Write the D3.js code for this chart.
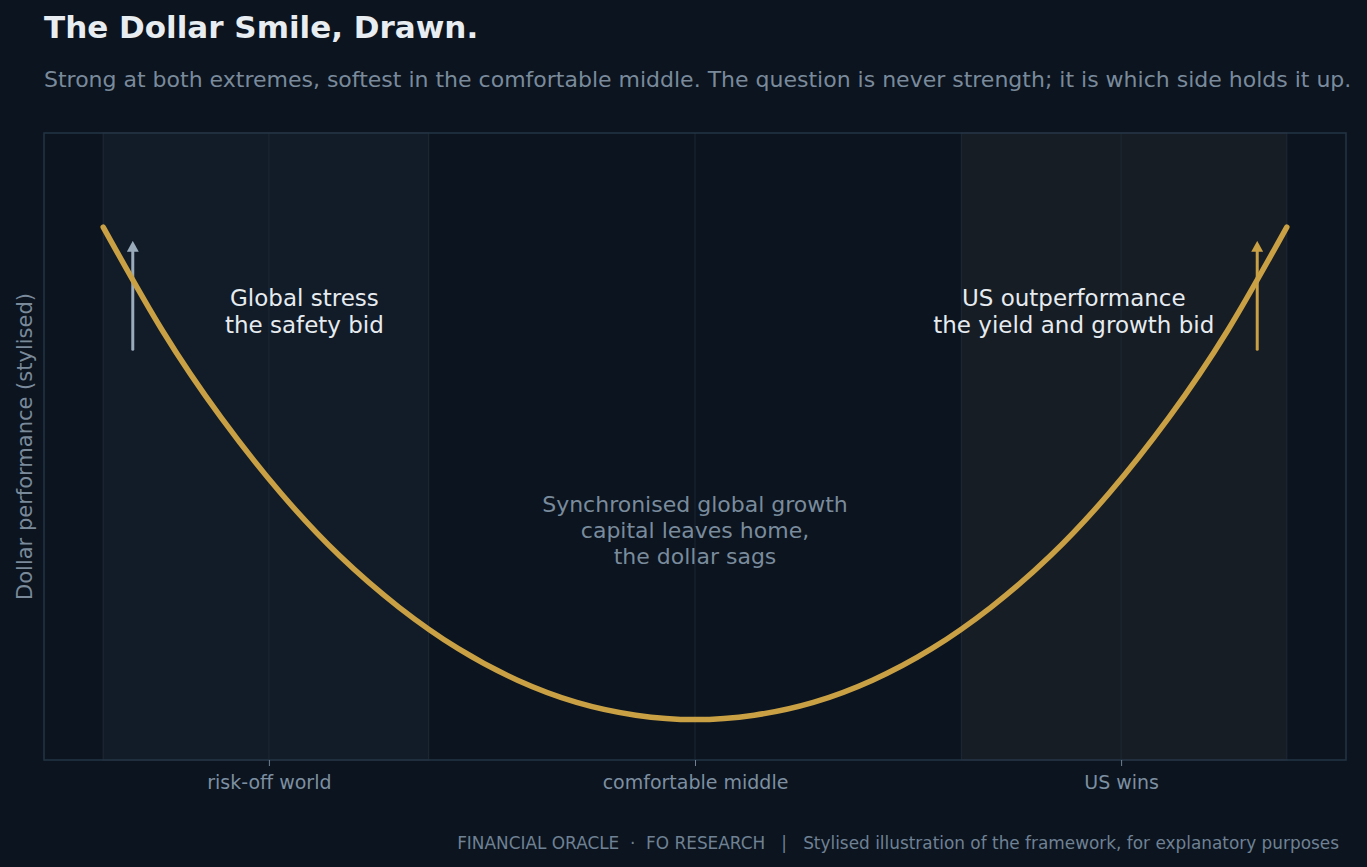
<!DOCTYPE html>
<html>
<head>
<meta charset="utf-8">
<script src="https://cdn.jsdelivr.net/npm/d3@7"></script>
<style>
  html, body { margin: 0; padding: 0; background: #0b141f; }
  svg { display: block; }
  text { font-family: "DejaVu Sans", sans-serif; }
</style>
</head>
<body>
<div id="chart"></div>
<script>
// Datos (unidades estilizadas)
const curveX = [-1.0, -0.9, -0.8, -0.7, -0.6, -0.5, -0.4, -0.3, -0.2, -0.1, 0.0,
                0.1, 0.2, 0.3, 0.4, 0.5, 0.6, 0.7, 0.8, 0.9, 1.0];
const curveY = [1.0, 0.79, 0.612, 0.46, 0.332, 0.228, 0.144, 0.08, 0.035, 0.009, 0.0,
                0.009, 0.035, 0.08, 0.144, 0.228, 0.332, 0.46, 0.612, 0.79, 1.0];

const tickValues = [-0.72, 0, 0.72];
const tickLabels = ["risk-off world", "comfortable middle", "US wins"];

const bandsStart = [-1.0, 0.45];
const bandsEnd = [-0.45, 1.0];

const arrowX = [-0.95, 0.95];
const arrowFrom = [0.752, 0.752];
const arrowTo = [0.972, 0.972];

const noteX = [-0.66, 0.64, 0.0];
const noteY = [0.827, 0.827, 0.383];
const noteLines = [
    ["Global stress", "the safety bid"],
    ["US outperformance", "the yield and growth bid"],
    ["Synchronised global growth", "capital leaves home,", "the dollar sags"]
];

// Estilos
const bandsFill = ["#111c28", "#171d24"];
const arrowColor = ["#9aabbb", "#c9a044"];
const noteColor = ["#e6ebf0", "#e6ebf0", "#7a8b9c"];
const noteSize = [23, 23, 22];

// Configuración del gráfico
const W = 1367, H = 867;
const margin = { top: 133, right: 21, bottom: 107, left: 44 };

const svg = d3.select("#chart")
    .append("svg")
    .attr("width", W)
    .attr("height", H);

svg.append("rect").attr("width", W).attr("height", H).attr("fill", "#0b141f");

// Escalas
const x = d3.scaleLinear()
    .domain([-1.1, 1.1])
    .range([margin.left, W - margin.right]);

const y = d3.scaleLinear()
    .domain([-0.082, 1.191])
    .range([H - margin.bottom, margin.top]);

// Bandas
svg.selectAll("rect.band")
    .data(bandsStart)
    .enter()
    .append("rect")
    .attr("class", "band")
    .attr("x", (d, i) => x(d))
    .attr("y", y(1.191))
    .attr("width", (d, i) => x(bandsEnd[i]) - x(d))
    .attr("height", y(-0.082) - y(1.191))
    .attr("fill", (d, i) => bandsFill[i])
    .attr("stroke", "#1f2a36")
    .attr("stroke-width", 1);

// Rejilla vertical
svg.selectAll("line.grid")
    .data(tickValues)
    .enter()
    .append("line")
    .attr("class", "grid")
    .attr("x1", d => x(d)).attr("x2", d => x(d))
    .attr("y1", y(1.191)).attr("y2", y(-0.082))
    .attr("stroke", "#1c2734")
    .attr("stroke-width", 1);

// Marco
svg.append("rect")
    .attr("x", x(-1.1))
    .attr("y", y(1.191))
    .attr("width", x(1.1) - x(-1.1))
    .attr("height", y(-0.082) - y(1.191))
    .attr("fill", "none")
    .attr("stroke", "#243444")
    .attr("stroke-width", 1.5);

// Eje x
const xAxis = svg.append("g")
    .attr("transform", `translate(0,${y(-0.082)})`)
    .call(d3.axisBottom(x)
        .tickValues(tickValues)
        .tickFormat((d, i) => tickLabels[i])
        .tickSize(6)
        .tickPadding(10));
xAxis.select(".domain").remove();
xAxis.selectAll(".tick line").attr("stroke", "#6f8193").attr("stroke-width", 1);
xAxis.selectAll(".tick text")
    .attr("fill", "#7d8fa1")
    .style("font-size", "19px")
    .style("font-family", "DejaVu Sans");

// Flechas
const defs = svg.append("defs");
arrowColor.forEach((c, i) => {
    defs.append("marker")
        .attr("id", "head" + i)
        .attr("markerUnits", "userSpaceOnUse")
        .attr("viewBox", "0 0 11 12")
        .attr("refX", 1)
        .attr("refY", 6)
        .attr("markerWidth", 11)
        .attr("markerHeight", 12)
        .attr("orient", "auto")
        .append("path")
        .attr("d", "M0,0 L11,6 L0,12 Z")
        .attr("fill", c);
});

svg.selectAll("line.arrow")
    .data(arrowX)
    .enter()
    .append("line")
    .attr("class", "arrow")
    .attr("x1", d => x(d)).attr("x2", d => x(d))
    .attr("y1", (d, i) => y(arrowFrom[i]))
    .attr("y2", (d, i) => y(arrowTo[i]) + 10)
    .attr("stroke", (d, i) => arrowColor[i])
    .attr("stroke-width", 3)
    .attr("stroke-linecap", "round")
    .attr("marker-end", (d, i) => `url(#head${i})`);

// Curva de la sonrisa
const line = d3.line()
    .x(d => x(d[0]))
    .y(d => y(d[1]))
    .curve(d3.curveNatural);

svg.append("path")
    .datum(curveX.map((v, i) => [v, curveY[i]]))
    .attr("d", line)
    .attr("fill", "none")
    .attr("stroke", "#c9a044")
    .attr("stroke-width", 5.5)
    .attr("stroke-linecap", "round");

// Anotaciones
noteLines.forEach((lines, k) => {
    const lh = noteSize[k] * 1.18;
    const t = svg.append("text")
        .attr("x", x(noteX[k]))
        .attr("y", y(noteY[k]) - (lines.length - 1) * lh / 2 + 7)
        .attr("text-anchor", "middle")
        .attr("fill", noteColor[k])
        .style("font-size", noteSize[k] + "px");
    lines.forEach((s, i) => {
        t.append("tspan")
            .attr("x", x(noteX[k]))
            .attr("dy", i === 0 ? 0 : lh)
            .text(s);
    });
});

// Títulos
svg.append("text")
    .attr("x", 44)
    .attr("y", 38)
    .attr("fill", "#e8edf2")
    .style("font-size", "31px")
    .style("font-weight", "bold")
    .text("The Dollar Smile, Drawn.");

svg.append("text")
    .attr("x", 44)
    .attr("y", 87)
    .attr("fill", "#7a8a9b")
    .style("font-size", "22px")
    .text("Strong at both extremes, softest in the comfortable middle. The question is never strength; it is which side holds it up.");

svg.append("text")
    .attr("transform", `translate(32,${(y(1.191) + y(-0.082)) / 2}) rotate(-90)`)
    .attr("text-anchor", "middle")
    .attr("fill", "#7a8a9b")
    .style("font-size", "21px")
    .text("Dollar performance (stylised)");

svg.append("text")
    .attr("x", 1339)
    .attr("y", 849)
    .attr("text-anchor", "end")
    .attr("fill", "#6f8193")
    .style("font-size", "16.9px")
    .style("white-space", "pre")
    .text("FINANCIAL ORACLE  \u00b7  FO RESEARCH   |   Stylised illustration of the framework, for explanatory purposes");
</script>
</body>
</html>
